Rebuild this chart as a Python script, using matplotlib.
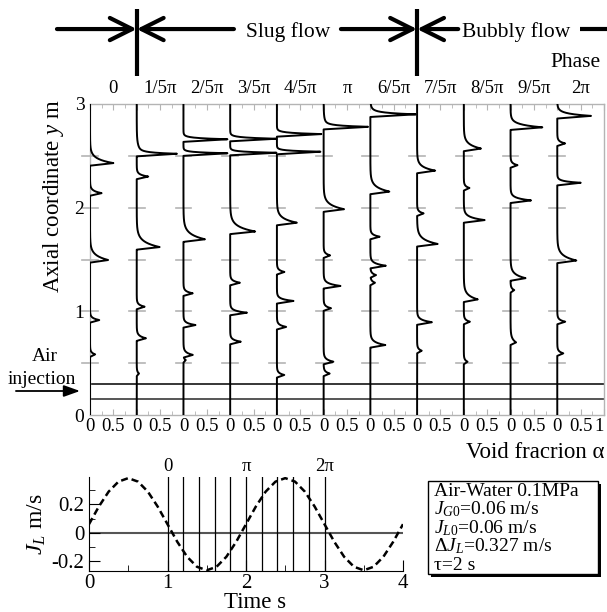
import numpy as np
import matplotlib
matplotlib.use("Agg")
import matplotlib.pyplot as plt
from matplotlib.patches import Rectangle

plt.rcParams['font.family'] = ['Liberation Serif', 'DejaVu Serif']
plt.rcParams['mathtext.fontset'] = 'custom'
plt.rcParams['mathtext.rm'] = 'Liberation Serif'
plt.rcParams['mathtext.it'] = 'Liberation Serif:italic'
plt.rcParams['axes.unicode_minus'] = False

# phase of each void fraction profile
phase_labels = ["0", "1/5\u03c0", "2/5\u03c0", "3/5\u03c0", "4/5\u03c0", "\u03c0",
                "6/5\u03c0", "7/5\u03c0", "8/5\u03c0", "9/5\u03c0", "2\u03c0"]

# peaks of each profile: (axial position m, void fraction at tip, nose length m)
col_0 = [(2.43, 0.50, 0.04), (2.14, 0.25, 0.022), (1.495, 0.39, 0.045), (0.916, 0.20, 0.018), (0.585, 0.11, 0.018)]
col_1 = [(2.52, 0.71, 0.011), (2.52, 0.15, 0.055), (2.30, 0.25, 0.018), (1.62, 0.49, 0.05), (1.045, 0.17, 0.018),
         (0.74, 0.20, 0.022), (0.40, 0.05, 0.018)]
col_2 = [(2.66, 0.96, 0.011), (2.525, 0.96, 0.009), (1.695, 0.46, 0.05), (1.174, 0.20, 0.018), (0.868, 0.26, 0.018),
         (0.58, 0.20, 0.022), (0.53, 0.05, 0.014)]
col_3 = [(2.665, 1.0, 0.011), (2.53, 1.0, 0.009), (1.77, 0.535, 0.047), (1.276, 0.21, 0.018), (0.987, 0.36, 0.018),
         (0.707, 0.23, 0.018)]
col_4 = [(2.71, 0.96, 0.011), (2.54, 0.95, 0.009), (1.855, 0.43, 0.04), (1.38, 0.16, 0.018), (1.10, 0.36, 0.018),
         (0.85, 0.20, 0.018), (0.386, 0.16, 0.018)]
col_5 = [(2.78, 0.85, 0.011), (2.78, 0.12, 0.045), (1.985, 0.44, 0.043), (1.54, 0.14, 0.018), (1.245, 0.36, 0.022),
         (1.03, 0.16, 0.018), (0.514, 0.21, 0.022), (0.40, 0.13, 0.018)]
col_6 = [(2.90, 0.85, 0.014), (2.90, 0.14, 0.036), (2.155, 0.41, 0.043), (1.72, 0.20, 0.018), (1.44, 0.33, 0.022),
         (1.35, 0.12, 0.018), (1.276, 0.10, 0.018), (0.675, 0.32, 0.027)]
col_7 = [(2.357, 0.39, 0.035), (1.945, 0.14, 0.018), (1.65, 0.44, 0.043), (0.895, 0.32, 0.022), (0.62, 0.10, 0.018)]
col_8 = [(2.57, 0.37, 0.04), (2.19, 0.12, 0.018), (1.88, 0.45, 0.027), (1.115, 0.30, 0.04), (0.90, 0.13, 0.018),
         (0.514, 0.08, 0.018)]
col_9 = [(2.775, 0.68, 0.027), (2.41, 0.15, 0.018), (2.07, 0.44, 0.022), (1.32, 0.32, 0.036), (1.205, 0.08, 0.018),
         (0.70, 0.12, 0.036)]
col_10 = [(2.885, 0.73, 0.022), (2.62, 0.17, 0.018), (2.24, 0.51, 0.014), (1.49, 0.41, 0.045), (0.90, 0.17, 0.018),
          (0.595, 0.13, 0.018)]
profiles = [col_0, col_1, col_2, col_3, col_4, col_5, col_6, col_7, col_8, col_9, col_10]

# air injection heights (m)
injection_lines = [0.3, 0.15]

# liquid flux J_L (m/s) read every 0.125 s
time_s = [i * 0.125 for i in range(33)]
jl = [0.060, 0.185, 0.291, 0.362, 0.387, 0.362, 0.291, 0.185,
      0.060, -0.065, -0.171, -0.242, -0.267, -0.242, -0.171, -0.065,
      0.060, 0.185, 0.291, 0.362, 0.387, 0.362, 0.291, 0.185,
      0.060, -0.065, -0.171, -0.242, -0.267, -0.242, -0.171, -0.065, 0.060]
phase_times = [1.0, 1.2, 1.4, 1.6, 1.8, 2.0, 2.2, 2.4, 2.6, 2.8, 3.0]
phase_marks = {1.0: "0", 2.0: "\u03c0", 3.0: "2\u03c0"}

legend_lines = ["Air-Water 0.1MPa", "$J_{G0}$=0.06 m/s", "$J_{L0}$=0.06 m/s",
                "\u0394$J_L$=0.327 m/s", "\u03c4=2 s"]


def profile_curve(peaks, y, tail=0.025):
    a = np.zeros_like(y)
    for yp, amp, nose in peaks:
        up = y >= yp
        a[up] += amp * np.exp(-(y[up] - yp) / nose)
        dn = (y < yp) & (y > yp - tail)
        a[dn] += amp * (1 - (yp - y[dn]) / tail)
    return np.minimum(a, 1.0)


W, H = 607, 612
fig = plt.figure(figsize=(W / 100, H / 100), dpi=100)

def fx(px):
    return px / W

def fy(py):
    return 1 - py / H

grey = '#b4b4b4'
ncol = len(profiles)

# ---------------- void fraction profiles ----------------
ax = fig.add_axes([fx(90), fy(415), fx(604) - fx(90), fy(104) - fy(415)])
ax.set_xlim(0, ncol)
ax.set_ylim(0, 3)
ys = np.linspace(0, 3, 4001)
for k, peaks in enumerate(profiles):
    ax.plot(k + profile_curve(peaks, ys), ys, color='k', lw=1.4, zorder=3)
    for yt in [0.5, 1.0, 1.5, 2.0, 2.5]:
        ax.plot([k - 0.17, k + 0.17], [yt, yt], color=grey, lw=1.2, zorder=1, clip_on=False)
    ax.text(k + 0.5, 3.154, phase_labels[k], ha='center', va='center', fontsize=13.5)

ax.axhline(injection_lines[0], color='k', lw=1.1, zorder=2)
ax.axhline(injection_lines[1], color='#555555', lw=1.4, zorder=2)

xt = []
xl = []
for k in range(ncol):
    xt += [k, k + 0.5]
    xl += ["0", "0.5"]
xt.append(ncol)
xl.append("1")
ax.set_xticks(xt)
labels = ax.set_xticklabels(xl)
labels[-1].set_horizontalalignment('right')
ax.set_xticks(np.arange(0, ncol + 0.01, 0.25), minor=True)
ax.set_yticks([0, 1, 2, 3])
ax.tick_params(axis='x', which='both', direction='in', top=True, color=grey, labelsize=13.5, pad=2)
ax.tick_params(axis='x', which='major', length=4)
ax.tick_params(axis='x', which='minor', length=3)
ax.tick_params(axis='y', length=0, labelsize=14, pad=4)
for s in ax.spines.values():
    s.set_color(grey)
    s.set_linewidth(1.0)

ax.text(-0.79, 2.11, "Axial coordinate $y$ m", rotation=90, ha='center', va='center', fontsize=16.5)
ax.text(ncol, -0.357, "Void fracrion \u03b1", ha='right', va='center', fontsize=16.5)

# air injection
ax.annotate('', xy=(-0.214, 0.2315), xytext=(-1.585, 0.2315),
            arrowprops=dict(arrowstyle='-|>,head_length=0.7,head_width=0.25', lw=1.3, color='k',
                            shrinkA=0, shrinkB=0, mutation_scale=14), annotation_clip=False)
ax.text(-0.964, 0.560, "Air", ha='center', va='center', fontsize=14)
ax.text(-1.028, 0.338, "injection", ha='center', va='center', fontsize=14)

# flow regime header
yh = 3.723
hd = dict(arrowstyle='->,head_length=0.8,head_width=0.4', lw=3, color='k',
          shrinkA=0, shrinkB=0, mutation_scale=20)
for x0, x1 in [(-0.707, 1), (3.08, 1), (5.37, 7), (7.88, 7)]:
    ax.annotate('', xy=(x1, yh), xytext=(x0, yh), arrowprops=hd, annotation_clip=False)
ax.plot([10.49, 11.2], [yh, yh], color='k', lw=3, clip_on=False, solid_capstyle='butt')
for xv in [1, 7]:
    ax.plot([xv, xv], [3.27, 3.916], color='k', lw=3, clip_on=False, solid_capstyle='butt')
ax.text(4.24, 3.694, "Slug flow", ha='center', va='center', fontsize=15.5)
ax.text(9.13, 3.694, "Bubbly flow", ha='center', va='center', fontsize=15.5)
ax.text(10.92, 3.405, "Phase", ha='right', va='center', fontsize=15.5)

# ---------------- liquid flux vs time ----------------
bx = fig.add_axes([fx(89), fy(571), fx(403) - fx(89), fy(477) - fy(571)])
bx.set_xlim(0, 4)
bx.set_ylim(-0.272, 0.395)
bx.axhline(0, color='#555555', lw=1.5, zorder=1)
for t in phase_times:
    bx.axvline(t, color='k', lw=0.9, zorder=2)
    if t in phase_marks:
        bx.text(t, 0.466, phase_marks[t], ha='center', va='center', fontsize=13.5, clip_on=False)
bx.plot(time_s, jl, color='k', lw=1.8, ls=(0, (2.8, 1.6)), zorder=3)
bx.spines['top'].set_visible(False)
bx.spines['right'].set_visible(False)
bx.set_xticks([0, 1, 2, 3, 4])
bx.set_xticks([0.5, 1.5, 2.5, 3.5], minor=True)
bx.set_yticks([-0.2, 0, 0.2])
bx.set_yticklabels(["-0.2", "0", "0.2"])
bx.set_yticks([-0.1, 0.1, 0.3], minor=True)
bx.tick_params(which='both', direction='in', labelsize=15)
bx.tick_params(which='major', length=8)
bx.tick_params(which='minor', length=4)
bx.tick_params(axis='x', pad=2)
bx.set_ylabel("$J_L$ m/s", fontsize=17, labelpad=2)
fig.text(fx(255), fy(602), "Time s", ha='center', va='center', fontsize=16.5)

# ---------------- condition box ----------------
bw, bh = 170, 93
fig.patches.append(Rectangle((fx(431), fy(577)), fx(bw), bh / H, transform=fig.transFigure,
                             facecolor='k', edgecolor='k', lw=0))
fig.patches.append(Rectangle((fx(428), fy(574)), fx(bw), bh / H, transform=fig.transFigure,
                             facecolor='white', edgecolor='k', lw=1.0))
for i, line in enumerate(legend_lines):
    fig.text(fx(434), fy(491 + i * 18.5), line, ha='left', va='center', fontsize=14)

fig.savefig('out.png', dpi=100)
